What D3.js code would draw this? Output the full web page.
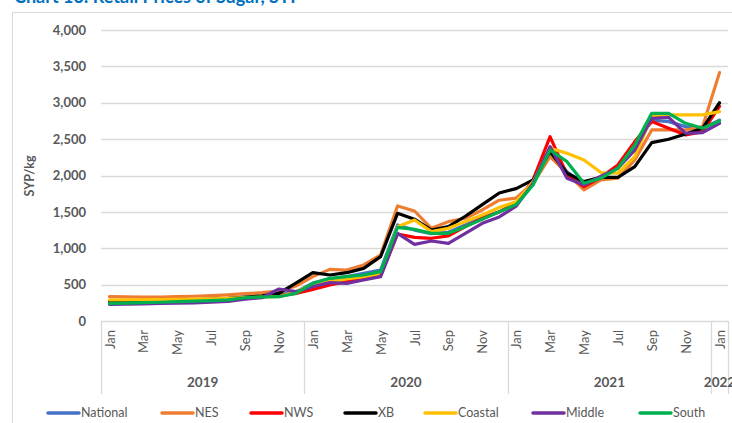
<!DOCTYPE html>
<html><head><meta charset="utf-8">
<script src="https://cdn.jsdelivr.net/npm/d3@7"></script>
<style>
body{margin:0;background:#fff;}
svg{display:block;}
text{font-family:Lato,"Open Sans",sans-serif;}
</style></head>
<body><svg id="chart" width="732" height="423"></svg>
<script>
const title = "Chart 13: Retail Prices of Sugar, SYP";
const monthNames = ["Jan","Feb","Mar","Apr","May","Jun","Jul","Aug","Sep","Oct","Nov","Dec"];
const years = ["2019","2020","2021","2022"];
const monthsPerYear = [12,12,12,1];
const yTicks = [0,500,1000,1500,2000,2500,3000,3500,4000];
const seriesNames = ["National","NES","NWS","XB","Coastal","Middle","South"];
const seriesColors = ["#4472C4","#ED7D31","#FF0000","#000000","#FFC000","#7030A0","#00B050"];

const national = [250,252,256,262,268,275,284,295,318,332,360,400,
  520,580,610,655,700,1320,1250,1200,1220,1320,1420,1500,
  1620,1900,2360,2050,1880,1975,2110,2400,2760,2741,2672,2650,
  2760];
const nes = [334,332,328,330,335,340,348,360,375,389,410,480,
  610,710,700,770,907,1581,1512,1274,1366,1412,1526,1660,
  1690,1893,2259,2031,1801,1939,1962,2213,2626,2626,2626,2672,
  3414];
const nws = [252,255,258,262,266,272,280,290,310,330,348,380,
  435,495,541,578,619,1196,1150,1137,1169,1297,1412,1500,
  1620,1939,2534,2007,1847,1975,2145,2466,2741,2649,2558,2603,
  2950];
const xb = [260,262,268,275,282,290,300,312,330,345,380,520,
  664,632,664,724,884,1480,1400,1251,1297,1440,1600,1760,
  1820,1939,2328,2031,1916,1975,1975,2122,2452,2498,2571,2649,
  3000];
const coastal = [289,290,292,295,298,300,305,312,320,330,334,403,
  500,541,578,610,655,1297,1389,1228,1274,1366,1458,1560,
  1640,1916,2374,2305,2213,2040,2031,2259,2809,2833,2833,2833,
  2878];
const middle = [229,232,236,242,245,250,258,270,300,320,440,403,
  472,527,518,564,610,1205,1054,1100,1068,1205,1343,1430,
  1580,1893,2397,1962,1870,1990,2100,2350,2787,2800,2580,2590,
  2718];
const south = [243,245,252,258,266,272,279,290,320,330,334,380,
  518,587,610,632,678,1288,1260,1205,1205,1297,1398,1500,
  1600,1870,2351,2190,1893,1962,2100,2420,2855,2855,2718,2649,
  2750];
const seriesValues = [national,nes,nws,xb,coastal,middle,south];

const cats = [];
years.forEach((y,yi)=>{ for(let m=0;m<monthsPerYear[yi];m++) cats.push({key:y+"-"+m, year:y, month:monthNames[m], m}); });

const svg = d3.select("#chart");
const L=101, R=728, T=30, B=321;
const x = d3.scalePoint().domain(cats.map(c=>c.key)).range([L,R]).padding(0.5);
const step = x.step();
const y = d3.scaleLinear().domain([0,4000]).range([B,T]);

svg.append("path").attr("d","M12.5,423 V12.5 H732").attr("fill","none").attr("stroke","#d9d9d9").attr("stroke-width",1);

svg.append("text").attr("x",14).attr("y",3).attr("fill","#0070C0").attr("font-weight","bold")
  .attr("font-size",18).text(title);

svg.append("g").selectAll("line").data(yTicks.filter(d=>d>0)).join("line")
  .attr("x1",L).attr("x2",R).attr("y1",d=>Math.round(y(d))+0.5).attr("y2",d=>Math.round(y(d))+0.5)
  .attr("stroke","#d9d9d9").attr("stroke-width",1.3);

const yAxis = d3.axisLeft(y).tickValues(yTicks).tickFormat(d3.format(",")).tickSize(0).tickPadding(0);
const ya = svg.append("g").attr("transform",`translate(86,0)`).call(yAxis);
ya.select(".domain").remove();
ya.selectAll("text").attr("font-size",13).attr("font-weight","bold").attr("fill","#595959")
  .attr("font-family","Lato,sans-serif");

svg.append("text").attr("transform","translate(34,176) rotate(-90)").attr("text-anchor","middle")
  .attr("font-size",12.5).attr("font-weight","bold").attr("fill","#595959").text("SYP/kg");

svg.append("line").attr("x1",L).attr("x2",R).attr("y1",B+0.5).attr("y2",B+0.5).attr("stroke","#d9d9d9").attr("stroke-width",1.3);

const monthKeys = cats.filter(c=>c.m%2===0).map(c=>c.key);
const xAxis = d3.axisBottom(x).tickValues(monthKeys).tickSize(0).tickFormat(k=>cats.find(c=>c.key===k).month);
const xa = svg.append("g").attr("transform",`translate(0,${B})`).call(xAxis);
xa.select(".domain").remove();
xa.selectAll("text").attr("transform","rotate(-90)").attr("text-anchor","end")
  .attr("x",-9).attr("y",0).attr("dy","0.35em").attr("font-size",13).attr("fill","#595959")
  .attr("font-family","Lato,sans-serif");

let idx=0;
const bounds=[];
years.forEach((yr,yi)=>{
  const first=cats[idx], last=cats[idx+monthsPerYear[yi]-1];
  const x0=x(first.key)-step/2, x1=x(last.key)+step/2;
  bounds.push({yr,x0,x1});
  idx+=monthsPerYear[yi];
});
const seps=[bounds[0].x0, ...bounds.map(b=>b.x1)];
svg.append("g").selectAll("line").data(seps).join("line")
  .attr("x1",d=>Math.round(d)+0.5).attr("x2",d=>Math.round(d)+0.5).attr("y1",B).attr("y2",394)
  .attr("stroke","#d9d9d9").attr("stroke-width",1.3);
svg.append("g").selectAll("text").data(bounds).join("text")
  .attr("x",d=>(d.x0+d.x1)/2).attr("y",387).attr("text-anchor","middle")
  .attr("font-size",13.5).attr("font-weight","bold").attr("fill","#595959").text(d=>d.yr);

const line = d3.line().x((d,i)=>x(cats[i].key)).y(d=>y(d));
svg.append("g").selectAll("path").data(seriesValues).join("path")
  .attr("d",d=>line(d)).attr("fill","none").attr("stroke",(d,i)=>seriesColors[i])
  .attr("stroke-width",3.2).attr("stroke-linejoin","round").attr("stroke-linecap","round");

const legX=[47,161,250,344,424,532,639];
const lg = svg.append("g").selectAll("g").data(seriesNames).join("g")
  .attr("transform",(d,i)=>`translate(${legX[i]},413)`);
lg.append("line").attr("x1",1).attr("x2",32).attr("y1",0).attr("y2",0)
  .attr("stroke",(d,i)=>seriesColors[i]).attr("stroke-width",3.5).attr("stroke-linecap","round");
lg.append("text").attr("x",34).attr("y",0).attr("dy","0.35em").attr("font-size",12.5)
  .attr("fill","#595959").text(d=>d);
</script></body></html>
